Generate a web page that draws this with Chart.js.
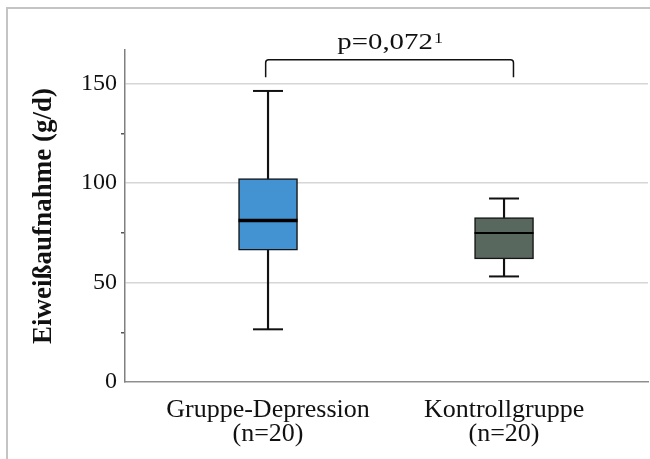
<!DOCTYPE html>
<html>
<head>
<meta charset="utf-8">
<script src="https://cdn.jsdelivr.net/npm/chart.js@4"></script>
<style>
  html, body { margin: 0; padding: 0; background: #fff; }
  #wrap { position: relative; width: 650px; height: 459px; }
</style>
</head>
<body>
<div id="wrap">
  <canvas id="boxChart"></canvas>
</div>
<script>
// Boxplot Eiweißaufnahme
const groupX = [1, 2];
const groupLabels = [['Gruppe-Depression', '(n=20)'], ['Kontrollgruppe', '(n=20)']];
const minValues = [26.5, 53.1];
const q1Values = [66.3, 61.9];
const medianValues = [81.2, 75.0];
const q3Values = [102.3, 82.7];
const maxValues = [146.4, 92.3];
const boxColors = ['#4393d3', '#58685f'];
const medianWidths = [3.5, 2];
const yTicksMajor = [0, 50, 100, 150];
const bracketX = [0.99, 2.04];
const bracketTop = 162.1;
const bracketEnd = 153.3;
const pText = 'p=0,072';
const pSup = '1';

const serif = '"Liberation Serif", "Times New Roman", serif';

// light grey frame on the left and top, like the cropped figure border
const framePlugin = {
    id: 'frame',
    beforeDraw(chart) {
        const ctx = chart.ctx;
        ctx.save();
        ctx.strokeStyle = '#c4c4c4';
        ctx.lineWidth = 2;
        ctx.beginPath();
        ctx.moveTo(7, chart.height);
        ctx.lineTo(7, 8);
        ctx.lineTo(chart.width, 8);
        ctx.stroke();
        ctx.restore();
    }
};

const bracketPlugin = {
    id: 'bracket',
    afterDraw(chart) {
        const ctx = chart.ctx;
        const xs = chart.scales.x, ys = chart.scales.y;
        const x1 = xs.getPixelForValue(bracketX[0]);
        const x2 = xs.getPixelForValue(bracketX[1]);
        const yt = ys.getPixelForValue(bracketTop);
        const ye = ys.getPixelForValue(bracketEnd);
        ctx.save();
        ctx.strokeStyle = '#111';
        ctx.lineWidth = 1.5;
        ctx.beginPath();
        ctx.moveTo(x1, ye);
        ctx.lineTo(x1, yt + 3);
        ctx.quadraticCurveTo(x1, yt, x1 + 3, yt);
        ctx.lineTo(x2 - 3, yt);
        ctx.quadraticCurveTo(x2, yt, x2, yt + 3);
        ctx.lineTo(x2, ye);
        ctx.stroke();

        // p-value text, slightly widened like the original
        const cx = (x1 + x2) / 2;
        const base = yt - 11;
        ctx.fillStyle = '#111';
        ctx.textBaseline = 'alphabetic';
        ctx.font = '24px ' + serif;
        const sx = 1.2;
        const w1 = ctx.measureText(pText).width * sx;
        ctx.font = '15px ' + serif;
        const w2 = ctx.measureText(pSup).width * sx;
        const left = cx - (w1 + w2) / 2;
        ctx.translate(left, base);
        ctx.scale(sx, 1);
        ctx.font = '24px ' + serif;
        ctx.textAlign = 'left';
        ctx.fillText(pText, 0, 0);
        ctx.font = '15px ' + serif;
        ctx.fillText(pSup, w1 / sx + 1, -6);
        ctx.restore();
    }
};

const pts = (vals) => groupX.map((x, i) => ({ x: x, y: vals[i] }));

new Chart(document.getElementById('boxChart').getContext('2d'), {
    type: 'bar',
    data: {
        datasets: [
            {
                type: 'line',
                label: 'Median',
                data: pts(medianValues),
                showLine: false,
                pointStyle: 'line',
                pointRadius: 29.5,
                pointHoverRadius: 29.5,
                pointBorderColor: '#000',
                pointBorderWidth: medianWidths,
                order: 0
            },
            {
                type: 'line',
                label: 'Whisker caps',
                data: pts(minValues).concat(pts(maxValues)),
                showLine: false,
                pointStyle: 'line',
                pointRadius: 15,
                pointHoverRadius: 15,
                pointBorderColor: '#111',
                pointBorderWidth: 2,
                order: 1
            },
            {
                label: 'Box',
                data: groupX.map((x, i) => ({ x: x, y: [q1Values[i], q3Values[i]] })),
                backgroundColor: boxColors,
                borderColor: '#151515',
                borderWidth: 1.5,
                borderSkipped: false,
                barThickness: 59,
                grouped: false,
                order: 2
            },
            {
                label: 'Whisker low',
                data: groupX.map((x, i) => ({ x: x, y: [minValues[i], q1Values[i]] })),
                backgroundColor: '#111',
                barThickness: 1.5,
                grouped: false,
                order: 3
            },
            {
                label: 'Whisker high',
                data: groupX.map((x, i) => ({ x: x, y: [q3Values[i], maxValues[i]] })),
                backgroundColor: '#111',
                barThickness: 1.5,
                grouped: false,
                order: 3
            }
        ]
    },
    options: {
        responsive: true,
        maintainAspectRatio: false,
        animation: false,
        layout: { autoPadding: false, padding: { top: 50, right: 2, left: 0, bottom: 0 } },
        plugins: { legend: { display: false }, tooltip: { enabled: false } },
        scales: {
            x: {
                type: 'linear',
                offset: false,
                min: 0.394,
                max: 2.61,
                afterBuildTicks: (scale) => { scale.ticks = groupX.map(v => ({ value: v })); },
                afterFit: (scale) => {
                    scale.height = 77;
                    scale.paddingLeft = 0;
                    scale.paddingRight = 0;
                },
                grid: { display: false, drawTicks: false },
                border: { display: true, color: '#8f8f8f', width: 1.5 },
                ticks: {
                    autoSkip: false,
                    maxRotation: 0,
                    padding: 16,
                    color: '#111',
                    font: { family: serif, size: 26, lineHeight: 0.93 },
                    callback: (v) => {
                        const i = groupX.indexOf(v);
                        return i >= 0 ? groupLabels[i] : '';
                    }
                }
            },
            y: {
                min: 0,
                max: 167,
                afterBuildTicks: (scale) => {
                    const t = [];
                    for (let v = 0; v <= 150; v += 25) t.push({ value: v });
                    scale.ticks = t;
                },
                afterFit: (scale) => { scale.width = 125; },
                grid: {
                    color: (c) => (c.tick && c.tick.value % 50 === 0 && c.tick.value !== 0) ? '#d6d6d6' : 'transparent',
                    lineWidth: 1.5,
                    drawTicks: true,
                    tickLength: 4,
                    tickColor: (c) => (c.tick && c.tick.value % 50 !== 0) ? '#555' : 'transparent'
                },
                border: { display: true, color: '#808080', width: 1.5 },
                ticks: {
                    padding: 4,
                    color: '#111',
                    font: { family: serif, size: 24 },
                    callback: (v) => yTicksMajor.includes(v) ? String(v) : ''
                },
                title: {
                    display: true,
                    text: 'Eiweißaufnahme (g/d)',
                    color: '#111',
                    font: { family: serif, size: 27, weight: 'bold' },
                    padding: { top: 28, bottom: 0 }
                }
            }
        }
    },
    plugins: [framePlugin, bracketPlugin]
});
</script>
</body>
</html>
